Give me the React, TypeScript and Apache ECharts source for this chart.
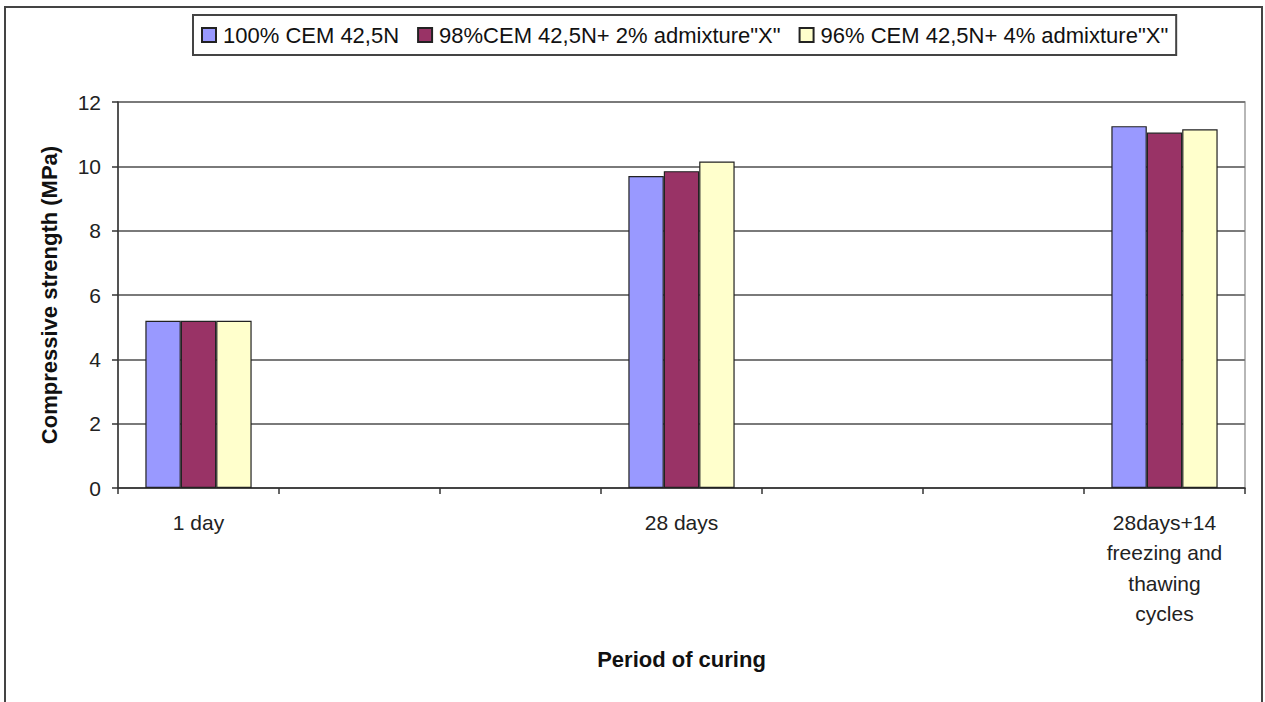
import React, { useEffect, useRef } from "react";
import * as echarts from "echarts";

// Curing periods (empty slots keep the wide spacing between the groups)
const categories = [
  "1 day",
  "",
  "",
  "28 days",
  "",
  "",
  "28days+14\nfreezing and\nthawing\ncycles",
];

const seriesNames = [
  "100% CEM 42,5N",
  "98%CEM 42,5N+ 2% admixture\"X\"",
  "96% CEM 42,5N+ 4% admixture\"X\"",
];

// Compressive strength, MPa
const cem100 = [5.2, null, null, 9.7, null, null, 11.25];
const cem98 = [5.2, null, null, 9.85, null, null, 11.05];
const cem96 = [5.2, null, null, 10.15, null, null, 11.15];

const seriesColors = ["#9999FF", "#993366", "#FFFFCC"];

const yTicks = { min: 0, max: 12, interval: 2 };

const FONT = "'Liberation Sans', Arial, sans-serif";

export default function App() {
  const ref = useRef<HTMLDivElement>(null);

  useEffect(() => {
    if (!ref.current) return;
    const chart = echarts.init(ref.current, null, { renderer: "svg" });
    const values = [cem100, cem98, cem96];

    chart.setOption({
      animation: false,
      backgroundColor: "#ffffff",
      textStyle: { fontFamily: FONT },
      graphic: [
        {
          type: "rect",
          shape: { x: 5, y: 7, width: 1257, height: 720 },
          style: { fill: "none", stroke: "#444", lineWidth: 2 },
          silent: true,
        },
      ],
      legend: {
        left: 193,
        top: 15,
        padding: [9, 8, 9, 8],
        itemWidth: 14,
        itemHeight: 14,
        itemGap: 18,
        icon: "rect",
        borderColor: "#444",
        borderWidth: 2,
        textStyle: { fontSize: 22, color: "#111", fontFamily: FONT, padding: [0, 0, 0, 2] },
        data: seriesNames,
      },
      grid: {
        left: 118,
        right: 20,
        top: 102,
        bottom: 214,
        show: true,
        borderColor: "#a0a0a0",
        borderWidth: 1.5,
      },
      xAxis: {
        type: "category",
        data: categories,
        boundaryGap: true,
        name: "Period of curing",
        nameLocation: "middle",
        nameGap: 160,
        nameTextStyle: { fontSize: 22, fontWeight: "bold", color: "#111", fontFamily: FONT },
        axisLine: { lineStyle: { color: "#333", width: 1.5 } },
        axisTick: { show: true, length: 6, alignWithLabel: false, lineStyle: { color: "#333", width: 1.5 } },
        axisLabel: {
          interval: 0,
          fontSize: 21,
          color: "#222",
          margin: 19,
          lineHeight: 30.5,
          fontFamily: FONT,
        },
        splitLine: { show: false },
      },
      yAxis: {
        type: "value",
        min: yTicks.min,
        max: yTicks.max,
        interval: yTicks.interval,
        name: "Compressive strength (MPa)",
        nameLocation: "middle",
        nameRotate: 90,
        nameGap: 58,
        nameTextStyle: { fontSize: 22, fontWeight: "bold", color: "#111", fontFamily: FONT },
        axisLine: { show: true, lineStyle: { color: "#333", width: 1.5 } },
        axisTick: { show: true, length: 6, lineStyle: { color: "#333", width: 1.5 } },
        axisLabel: { fontSize: 21, color: "#222", margin: 17, fontFamily: FONT },
        splitLine: { show: true, lineStyle: { color: "#7a7a7a", width: 2 } },
      },
      series: seriesNames.map((name, i) => ({
        name,
        type: "bar",
        data: values[i],
        barGap: "0%",
        barCategoryGap: "34%",
        itemStyle: { color: seriesColors[i], borderColor: "#222", borderWidth: 1.2 },
      })),
    });

    return () => chart.dispose();
  }, []);

  return (
    <div
      ref={ref}
      style={{ position: "absolute", left: 0, top: 0, width: 1265, height: 702 }}
    />
  );
}
